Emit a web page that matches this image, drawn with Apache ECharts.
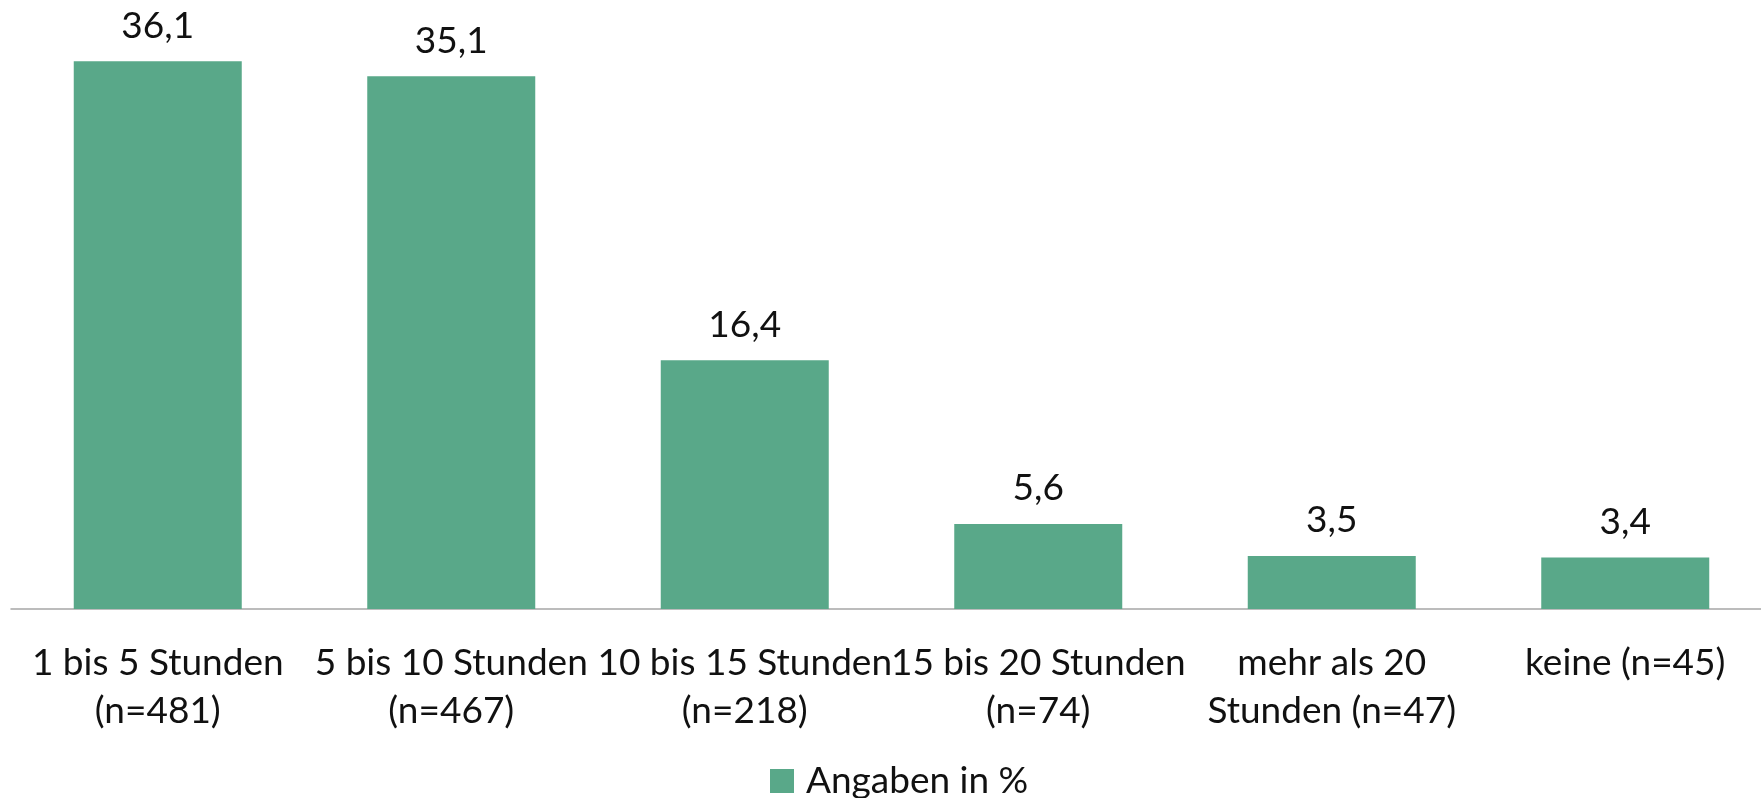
<!DOCTYPE html>
<html>
<head>
<meta charset="utf-8">
<style>
  html, body { margin: 0; padding: 0; background: #ffffff; }
  #chart { width: 1761px; height: 798px; }
</style>
<script src="https://cdn.jsdelivr.net/npm/echarts@6/dist/echarts.min.js"></script>
</head>
<body>
<div id="chart"></div>
<script>
// Weekly hours categories with group sizes
const categories = [
  '1 bis 5 Stunden\n(n=481)',
  '5 bis 10 Stunden\n(n=467)',
  '10 bis 15 Stunden\n(n=218)',
  '15 bis 20 Stunden\n(n=74)',
  'mehr als 20\nStunden (n=47)',
  'keine (n=45)'
];
// Share of respondents in percent
const shares = [36.1, 35.1, 16.4, 5.6, 3.5, 3.4];
const seriesName = 'Angaben in %';

const FONT = 'Lato, "Open Sans", sans-serif';
const GREEN = '#59a889';

const chart = echarts.init(document.getElementById('chart'), null, { renderer: 'canvas' });

chart.setOption({
  animation: false,
  backgroundColor: '#ffffff',
  grid: {
    left: 11, width: 1761, top: 2, bottom: 189,
    containLabel: false,
    outerBoundsMode: 'none'
  },
  legend: {
    data: [seriesName],
    left: 770,
    top: 759,
    padding: 0,
    itemWidth: 24,
    itemHeight: 24,
    icon: 'rect',
    textStyle: {
      fontFamily: FONT,
      fontSize: 37,
      lineHeight: 44,
      color: '#111111',
      padding: [0, 0, 0, 7]
    }
  },
  xAxis: {
    type: 'category',
    data: categories,
    axisTick: { show: false },
    axisLine: { lineStyle: { color: '#a6a6a6', width: 1.5 } },
    axisLabel: {
      interval: 0,
      margin: 30,
      fontFamily: FONT,
      fontSize: 37,
      lineHeight: 48,
      color: '#111111',
      align: 'center',
      hideOverlap: false
    }
  },
  yAxis: {
    type: 'value',
    min: 0,
    max: 40,
    show: false,
    splitLine: { show: false }
  },
  series: [{
    name: seriesName,
    type: 'bar',
    data: shares,
    barWidth: 168,
    itemStyle: { color: GREEN },
    label: {
      show: true,
      position: 'top',
      distance: 17,
      fontFamily: FONT,
      fontSize: 37,
      color: '#111111',
      formatter: p => p.value.toFixed(1).replace('.', ',')
    }
  }]
});
</script>
</body>
</html>
